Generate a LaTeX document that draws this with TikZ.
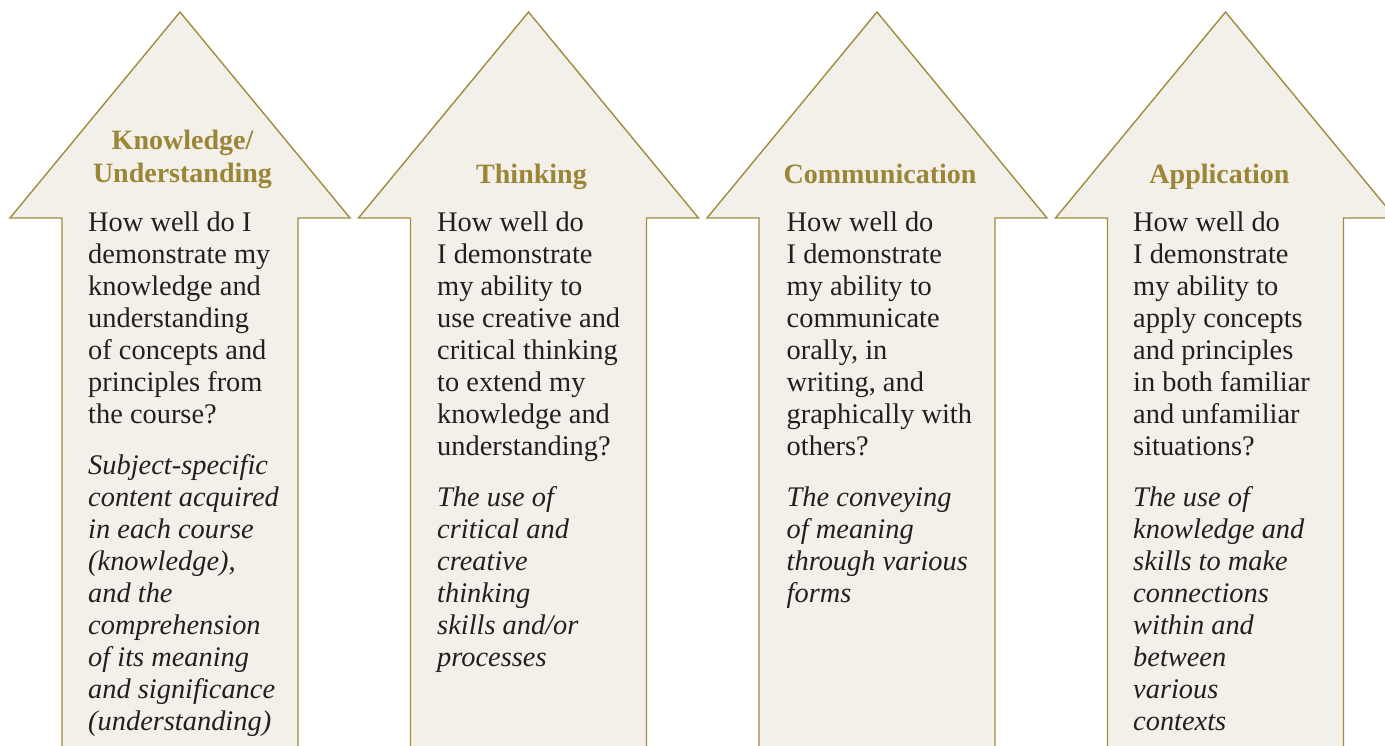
\documentclass[tikz,border=0pt]{standalone}
\usepackage{fontspec}
\setmainfont{Liberation Serif}
\definecolor{arrfill}{HTML}{F3F0E9}
\definecolor{arrline}{HTML}{A08B3F}
\definecolor{titlecol}{HTML}{9B8537}
\definecolor{txt}{HTML}{231F20}
\newcommand\fs{\rule{0pt}{30pt}}
\begin{document}
\begin{tikzpicture}[x=1pt,y=-1pt,
  arrowshape/.style={fill=arrfill,draw=arrline,line width=1.4pt,line join=miter},
  title/.style={font=\fontsize{28}{33}\selectfont\bfseries, text=titlecol, align=center, inner sep=0pt, anchor=north},
  body/.style={font=\fontsize{28.4}{32}\selectfont, text=txt, align=left, inner sep=0pt, anchor=north west},
  note/.style={body, font=\fontsize{28.4}{32}\selectfont\itshape}]
\useasboundingbox (0,0) rectangle (1385,746);
\begin{scope}
\clip (0,0) rectangle (1385,746);
\foreach \k in {0,1,2,3}{
  \begin{scope}[xshift=\k*348.5pt]
    \draw[arrowshape] (180,12) -- (350,218) -- (298,218) -- (298,760) -- (62,760) -- (62,218) -- (10,218) -- cycle;
  \end{scope}
}
\end{scope}
% titles
\node[title] (t1) at (182.5,119) {\fs Knowledge/\\Understanding};
\node[title] (t2) at (531.5,153) {\fs Thinking};
\node[title] (t3) at (880,153) {\fs Communication};
\node[title] (t4) at (1219.5,153) {\fs Application};
% questions
\node[body] (b1) at (88,201.5) {\fs How well do I\\demonstrate my\\knowledge and\\understanding\\of concepts and\\principles from\\the course?};
\node[body] (b2) at (437,201.5) {\fs How well do\\I demonstrate\\my ability to\\use creative and\\critical thinking\\to extend my\\knowledge and\\understanding?};
\node[body] (b3) at (786.5,201.5) {\fs How well do\\I demonstrate\\my ability to\\communicate\\orally, in\\writing, and\\graphically with\\others?};
\node[body] (b4) at (1133,201.5) {\fs How well do\\I demonstrate\\my ability to\\apply concepts\\and principles\\in both familiar\\and unfamiliar\\situations?};
% descriptions
\node[note] (n1) at (88,444) {\fs Subject-specific\\content acquired\\in each course\\(knowledge),\\and the\\comprehension\\of its meaning\\and significance\\(understanding)};
\node[note] (n2) at (437,476) {\fs The use of\\critical and\\creative\\thinking\\skills and/or\\processes};
\node[note] (n3) at (786.5,476) {\fs The conveying\\of meaning\\through various\\forms};
\node[note] (n4) at (1133,476) {\fs The use of\\knowledge and\\skills to make\\connections\\within and\\between\\various\\contexts};
\end{tikzpicture}
\end{document}
